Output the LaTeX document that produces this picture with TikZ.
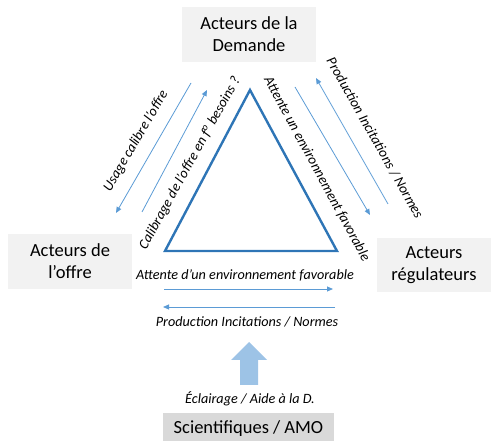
\documentclass[tikz,border=0pt]{standalone}
\usepackage{fontspec}
\setmainfont{Carlito}
\usetikzlibrary{arrows.meta}
\definecolor{boxgray}{HTML}{F2F2F2}
\definecolor{boxdark}{HTML}{D9D9D9}
\definecolor{tri}{HTML}{2E75B6}
\definecolor{thin}{HTML}{5B9BD5}
\definecolor{block}{HTML}{9DC3E6}
\begin{document}
\begin{tikzpicture}[x=1pt,y=-1pt,
  actor/.style={fill=boxgray,inner sep=0pt,align=center,font=\fontsize{18.5}{22}\selectfont,text=black},
  thinarrow/.style={draw=thin,line width=0.8pt,-{Triangle[width=5pt,length=6pt]}},
  lbl/.style={font=\fontsize{14.2}{16}\selectfont\itshape,inner sep=0pt}]
\useasboundingbox (0,0) rectangle (491,441);
% boxes
\node[actor,minimum width=134,minimum height=55] (dem) at (249,34.5) {Acteurs de la\\Demande};
\node[actor,minimum width=124,minimum height=55] (off) at (70,261.5) {Acteurs de\\l’offre};
\node[actor,minimum width=114,minimum height=54] (reg) at (434,265) {Acteurs\\régulateurs};
\node[actor,fill=boxdark,minimum width=171,minimum height=30,anchor=north] (sci) at (248.5,413) {Scientifiques / AMO};
% triangle
\coordinate (ta) at (250,90);
\coordinate (tl) at (165,251);
\coordinate (tr) at (337,251);
\draw[tri,line width=2.4pt,line join=miter] (ta) -- (tl) -- (tr) -- cycle;
% thin arrows
\coordinate (a1s) at (191,83);  \coordinate (a1e) at (116,213);
\coordinate (a2s) at (142,212); \coordinate (a2e) at (207,90);
\coordinate (a3s) at (295,87);  \coordinate (a3e) at (370,215);
\coordinate (a4s) at (388,204); \coordinate (a4e) at (316,78);
\coordinate (a5s) at (164,289); \coordinate (a5e) at (333,289);
\coordinate (a6s) at (335,307); \coordinate (a6e) at (163,307);
\draw[thinarrow] (a1s) -- (a1e);
\draw[thinarrow] (a2s) -- (a2e);
\draw[thinarrow] (a3s) -- (a3e);
\draw[thinarrow] (a4s) -- (a4e);
\draw[thinarrow] (a5s) -- (a5e);
\draw[thinarrow] (a6s) -- (a6e);
% block arrow
\fill[block] (240,385) -- (258,385) -- (258,360) -- (267,360) -- (249,342) -- (231,360) -- (240,360) -- cycle;
% labels
\node[lbl,rotate=59.5] (l1) at (136,141) {Usage calibre l’offre};
\node[lbl,rotate=61] (l2) at (190,163) {Calibrage de l’offre en f\textsuperscript{o} besoins ?};
\node[lbl,rotate=-61.5] (l3) at (317,169) {Attente un environnement favorable};
\node[lbl,rotate=-60.5] (l4) at (375,138) {Production Incitations / Normes};
\node[lbl] (l5) at (245,275) {Attente d’un environnement favorable};
\node[lbl] (l6) at (247,322) {Production Incitations / Normes};
\node[lbl] (l7) at (250,399) {Éclairage / Aide à la D.};
\end{tikzpicture}
\end{document}
